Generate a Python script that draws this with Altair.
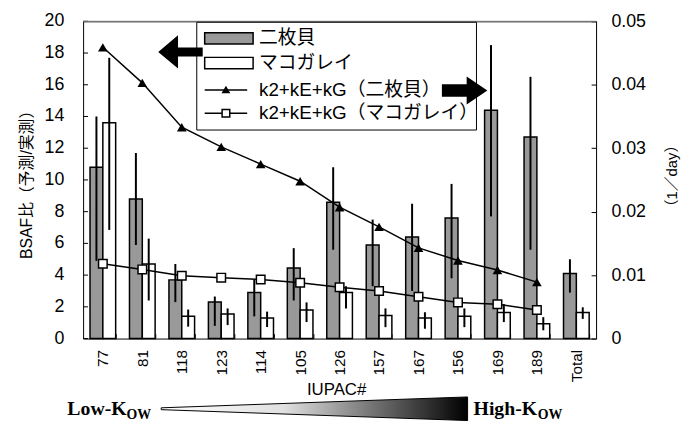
import altair as alt
import pandas as pd

# ---- data ----
categories = ["77", "81", "118", "123", "114", "105", "126", "157", "167", "156", "169", "189", "Total"]
series_names = ["二枚貝", "マコガレイ"]

bivalve = [10.8, 8.8, 3.7, 2.3, 2.9, 4.45, 8.6, 5.9, 6.4, 7.6, 14.4, 12.7, 4.1]
bivalve_lo = [4.9, 5.9, 2.3, 0.8, 1.4, 2.4, 5.6, 3.3, 3.0, 3.8, 7.7, 5.6, 2.9]
bivalve_hi = [14.0, 11.7, 4.7, 2.65, 3.7, 5.7, 10.8, 7.5, 8.5, 9.75, 18.5, 16.5, 5.0]

flatfish = [13.6, 4.7, 1.4, 1.55, 1.3, 1.8, 2.9, 1.45, 1.3, 1.4, 1.65, 0.93, 1.65]
flatfish_lo = [6.85, 2.4, 0.75, 0.85, 0.73, 1.04, 1.9, 0.72, 0.62, 0.72, 1.04, 0.52, 1.24]
flatfish_hi = [17.7, 6.3, 1.83, 1.9, 1.7, 2.28, 3.3, 1.9, 1.66, 1.9, 2.18, 1.35, 1.97]

line_categories = categories[:12]
k_bivalve = [0.0459, 0.0403, 0.0333, 0.0302, 0.0275, 0.0248, 0.0207, 0.0176, 0.0143, 0.0123, 0.0108, 0.0089]
k_flatfish = [0.0118, 0.0109, 0.0099, 0.0096, 0.0093, 0.0088, 0.0081, 0.0075, 0.0066, 0.0057, 0.0054, 0.0045]

line_names = ["k2+kE+kG（二枚貝）", "k2+kE+kG（マコガレイ）"]
left_ticks = [0, 2, 4, 6, 8, 10, 12, 14, 16, 18, 20]
right_ticks = [0, 0.01, 0.02, 0.03, 0.04, 0.05]

# ---- tables ----
bars_df = pd.DataFrame({
    "cat": categories * 2,
    "series": [series_names[0]] * len(categories) + [series_names[1]] * len(categories),
    "value": bivalve + flatfish,
    "lo": bivalve_lo + flatfish_lo,
    "hi": bivalve_hi + flatfish_hi,
})
lines_df = pd.DataFrame({
    "cat": line_categories * 2,
    "series": [line_names[0]] * len(line_categories) + [line_names[1]] * len(line_categories),
    "k": k_bivalve + k_flatfish,
})
left_ticks_df = pd.DataFrame({"value": left_ticks, "label": [str(v) for v in left_ticks]})

W, H = 519, 321
FONT = "Liberation Sans, Noto Sans CJK JP"

x_enc = alt.X("cat:N", sort=categories,
              scale=alt.Scale(domain=categories, paddingInner=0.35, paddingOuter=0.175),
              axis=alt.Axis(title="IUPAC#", labelAngle=270, labelAlign="right", labelBaseline="middle",
                            labelFont=FONT, labelFontSize=15.5, labelColor="black", labelPadding=11,
                            labelOverlap=False,
                            tickBand="extent", tickSize=5, tickColor="black", offset=-5, domain=False,
                            titleFont=FONT, titleFontSize=17, titleFontWeight="normal", titleColor="black",
                            titleX=256, titleY=57, titleBaseline="middle", titleAlign="center"))
xoff = alt.XOffset("series:N", scale=alt.Scale(domain=series_names, paddingInner=0.0))

left_scale = alt.Scale(domain=[0, 20], nice=False)
left_axis = alt.Axis(title="BSAF比（予測/実測）", orient="left", labels=False, ticks=False,
                     domain=False, grid=False,
                     titleFont=FONT, titleFontSize=16, titleFontWeight="normal", titleColor="black",
                     titleAngle=270, titleX=-57, titleY=161, titleAlign="center",
                     titleBaseline="middle")

bars = alt.Chart(bars_df).mark_bar(stroke="black", strokeWidth=1.5).encode(
    x=x_enc, xOffset=xoff, y=alt.Y("value:Q", scale=left_scale, axis=left_axis),
    fill=alt.Fill("series:N", scale=alt.Scale(domain=series_names, range=["#999999", "#ffffff"]), legend=None),
)
errs = alt.Chart(bars_df).mark_rule(color="black", strokeWidth=2).encode(
    x=alt.X("cat:N", sort=categories), xOffset=xoff,
    y=alt.Y("lo:Q", scale=left_scale, axis=left_axis), y2="hi:Q",
)
# left axis ticks (inward) and labels
lt_ticks = alt.Chart(left_ticks_df).mark_rule(color="black", strokeWidth=1).encode(
    y=alt.Y("value:Q", scale=left_scale, axis=left_axis), x=alt.value(0), x2=alt.value(5))
lt_labels = alt.Chart(left_ticks_df).mark_text(font=FONT, fontSize=18, align="right", baseline="middle",
                                               color="black").encode(
    y=alt.Y("value:Q", scale=left_scale, axis=left_axis), x=alt.value(-19), text="label:N")
bar_group = alt.layer(bars, errs, lt_ticks, lt_labels)

y_right = alt.Y("k:Q", scale=alt.Scale(domain=[0, 0.05], nice=False),
                axis=alt.Axis(values=right_ticks, format="~g", title="（1／day）", orient="right",
                              labelFont=FONT, labelFontSize=18, labelColor="black", labelPadding=15,
                              labelOverlap=False,
                              tickSize=5, tickColor="black", offset=-5, domain=False, grid=False,
                              titleFont=FONT, titleFontSize=15, titleFontWeight="normal", titleColor="black",
                              titleAngle=270, titleX=81, titleY=156, titleAlign="center",
                              titleBaseline="middle"))

line_base = alt.Chart(lines_df).encode(x=alt.X("cat:N", sort=categories), y=y_right,
                                       detail="series:N")
lines = line_base.mark_line(color="black", strokeWidth=1.5)
tri = line_base.transform_filter(alt.datum.series == line_names[0]).mark_point(
    shape="triangle-up", size=95, filled=True, color="black", opacity=1)
sq = line_base.transform_filter(alt.datum.series == line_names[1]).mark_point(
    shape="square", size=75, filled=True, fill="white", stroke="black", strokeWidth=1.5, opacity=1)
line_group = alt.layer(lines, tri, sq)

one = alt.Data(values=[{}])

# top frame edge (grey)
top_edge = alt.Chart(one).mark_rule(color="#808080", strokeWidth=1).encode(
    x=alt.value(0), x2=alt.value(W), y=alt.value(0))

# ---- legend (drawn by hand) ----
leg_box = alt.Chart(one).mark_rect(fill="white", stroke="black", strokeWidth=1).encode(
    x=alt.value(115), x2=alt.value(398), y=alt.value(1), y2=alt.value(110))
leg_sw1 = alt.Chart(one).mark_rect(fill="#999999", stroke="black", strokeWidth=1.5).encode(
    x=alt.value(123), x2=alt.value(172), y=alt.value(11.5), y2=alt.value(23))
leg_sw2 = alt.Chart(one).mark_rect(fill="white", stroke="black", strokeWidth=1.5).encode(
    x=alt.value(123), x2=alt.value(172), y=alt.value(36.5), y2=alt.value(48))
leg_l3 = alt.Chart(one).mark_rule(color="black", strokeWidth=1.5).encode(
    x=alt.value(123), x2=alt.value(166), y=alt.value(69.5))
leg_l4 = alt.Chart(one).mark_rule(color="black", strokeWidth=1.5).encode(
    x=alt.value(123), x2=alt.value(166), y=alt.value(93))
leg_p3 = alt.Chart(one).mark_point(shape="triangle-up", size=80, filled=True, color="black", opacity=1).encode(
    x=alt.value(144.5), y=alt.value(69))
leg_p4 = alt.Chart(one).mark_point(shape="square", size=60, filled=True, fill="white", stroke="black",
                                   strokeWidth=1.5, opacity=1).encode(x=alt.value(144.5), y=alt.value(93))
leg_texts = []
for label, yy in zip(series_names + line_names, [17, 42, 69.5, 93]):
    leg_texts.append(alt.Chart(one).mark_text(text=label, font=FONT, fontSize=19, align="left",
                                              baseline="middle", color="black").encode(
        x=alt.value(178), y=alt.value(yy)))

# ---- arrows ----
left_arrow = alt.Chart(one).mark_point(
    shape="M-1,0 L-0.11,-0.75 L-0.11,-0.2 L1,-0.2 L1,0.2 L-0.11,0.2 L-0.11,0.75 Z",
    size=2025, filled=True, color="black", opacity=1, strokeWidth=0).encode(
    x=alt.value(98.5), y=alt.value(31))
right_arrow = alt.Chart(one).mark_point(
    shape="M1,0 L0.09,-0.62 L0.09,-0.27 L-1,-0.27 L-1,0.27 L0.09,0.27 L0.09,0.62 Z",
    size=2116, filled=True, color="black", opacity=1, strokeWidth=0).encode(
    x=alt.value(386), y=alt.value(70))

# ---- Kow gradient wedge and labels ----
wedge = alt.Chart(one).mark_point(
    shape="M-1,-0.006 L1,-0.077 L1,0.077 L-1,0.006 Z", size=96100, filled=True, opacity=1,
    fill=alt.LinearGradient(gradient="linear", x1=0, y1=0, x2=1, y2=0,
                            stops=[alt.GradientStop(color="white", offset=0),
                                   alt.GradientStop(color="#e0e0e0", offset=0.4),
                                   alt.GradientStop(color="black", offset=1)]),
    stroke="black", strokeWidth=1).encode(x=alt.value(234), y=alt.value(392))
low_main = alt.Chart(one).mark_text(text="Low-K", font="Liberation Serif", fontWeight="bold",
                                    fontSize=20, align="right", baseline="alphabetic",
                                    color="black").encode(x=alt.value(44), y=alt.value(398))
low_sub = alt.Chart(one).mark_text(text="OW", font="Liberation Serif", fontWeight="bold",
                                   fontSize=14, align="left", baseline="alphabetic",
                                   color="black").encode(x=alt.value(44), y=alt.value(402))
high_main = alt.Chart(one).mark_text(text="High-K", font="Liberation Serif", fontWeight="bold",
                                     fontSize=20, align="left", baseline="alphabetic",
                                     color="black").encode(x=alt.value(395), y=alt.value(398))
high_sub = alt.Chart(one).mark_text(text="OW", font="Liberation Serif", fontWeight="bold",
                                    fontSize=14, align="left", baseline="alphabetic",
                                    color="black").encode(x=alt.value(460), y=alt.value(402))

chart = alt.layer(
    bar_group, line_group, top_edge,
    leg_box, leg_sw1, leg_sw2, leg_l3, leg_l4, leg_p3, leg_p4, *leg_texts,
    left_arrow, right_arrow, wedge, low_main, low_sub, high_main, high_sub,
).resolve_scale(y="independent").properties(
    width=W, height=H,
    autosize=alt.AutoSizeParams(type="none"),
    padding={"left": 76, "top": 11, "right": 92, "bottom": 86},
    background="white",
).configure_view(stroke="black", strokeWidth=1)

chart.save("out.html", embed_options={"renderer": "svg", "actions": False})
